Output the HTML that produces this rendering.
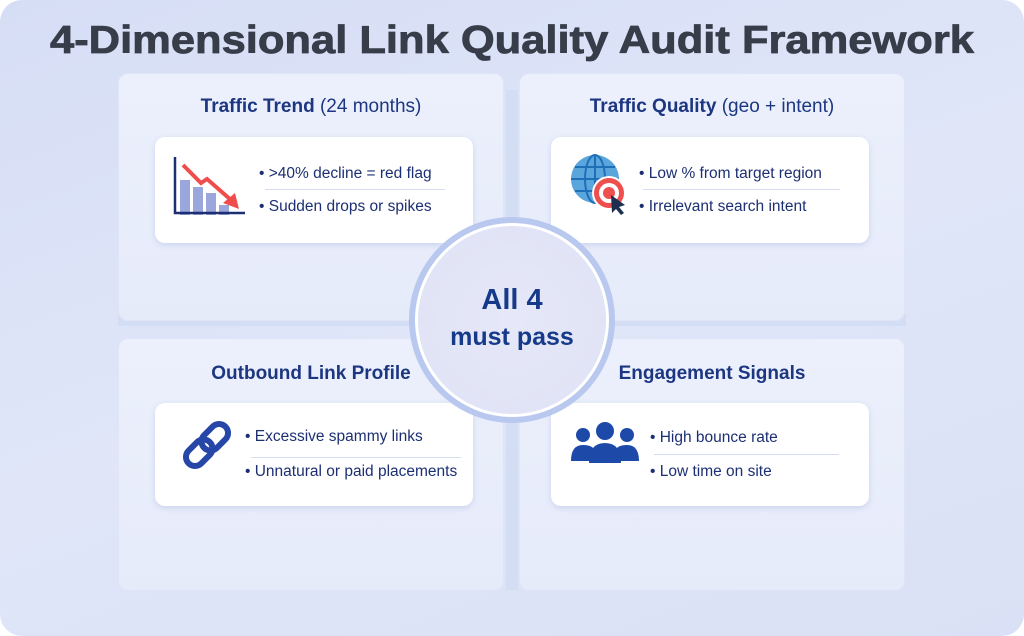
<!DOCTYPE html>
<html><head><meta charset="utf-8"><style>
*{margin:0;padding:0;box-sizing:border-box}
body{width:1024px;height:636px;background:#fff;font-family:"Liberation Sans","DejaVu Sans",sans-serif;position:relative;overflow:hidden}
.bg{position:absolute;left:0;top:0;width:1024px;height:636px;border-radius:22px;background:linear-gradient(160deg,#d6def6 0%,#e0e6f8 50%,#dae1f6 100%)}
.panel{position:absolute;width:386px;border-radius:10px;background:linear-gradient(180deg,#ecf0fc,#e6ebfa);border:1px solid #dfe5f6}
.ptitle{position:absolute;left:0;width:100%;text-align:center;font-size:19px;color:#1c3681}
.card{position:absolute;width:318px;height:106px;background:#fff;border-radius:10px;box-shadow:0 2px 6px rgba(120,140,200,.25)}
.li{position:absolute;font-size:15.5px;color:#1c2f72;white-space:nowrap}
.sep{position:absolute;height:1px;background:#d6dcef}
.conn{position:absolute;background:#d3ddf4}
</style></head><body>
<div class="bg"></div>
<svg style="position:absolute;left:0;top:0" width="1024" height="80"><text x="512" y="53" text-anchor="middle" font-family="Liberation Sans" font-weight="bold" font-size="39" fill="#373d49" stroke="#373d49" stroke-width="0.8" textLength="924" lengthAdjust="spacingAndGlyphs">4-Dimensional Link Quality Audit Framework</text></svg>

<div class="conn" style="left:506px;top:90px;width:12px;height:500px"></div>
<div class="conn" style="left:118px;top:314px;width:788px;height:12px"></div>

<div class="panel" style="left:118px;top:73px;height:248px"><div class="ptitle" style="top:22px"><b>Traffic Trend</b> (24 months)</div></div>
<div class="panel" style="left:519px;top:73px;height:248px"><div class="ptitle" style="top:22px"><b>Traffic Quality</b> (geo + intent)</div></div>
<div class="panel" style="left:118px;top:338px;height:253px"><div class="ptitle" style="top:24px"><b>Outbound Link Profile</b></div></div>
<div class="panel" style="left:519px;top:338px;height:253px"><div class="ptitle" style="top:24px"><b>Engagement Signals</b></div></div>

<!-- TL card -->
<div class="card" style="left:155px;top:137px">
<svg style="position:absolute;left:18px;top:18px" width="75" height="62">
<rect x="7" y="25" width="10" height="35" fill="#9aa6dc"/><rect x="20" y="32" width="10" height="28" fill="#9aa6dc"/><rect x="33" y="38" width="10" height="22" fill="#9aa6dc"/><rect x="46" y="50" width="10" height="10" fill="#9aa6dc"/>
<path d="M2 2V58H72" stroke="#1c2f72" stroke-width="2.5" fill="none"/>
<path d="M10 10L28 28L34 24L58 45" stroke="#ef4d4d" stroke-width="4" fill="none"/><path d="M50 48L66 54L62 38Z" fill="#ef4d4d"/>
</svg>
<div class="li" style="left:104px;top:28px">• &gt;40% decline = red flag</div>
<div class="sep" style="left:110px;top:52px;width:180px"></div>
<div class="li" style="left:104px;top:61px">• Sudden drops or spikes</div>
</div>
<!-- TR card -->
<div class="card" style="left:551px;top:137px">
<svg style="position:absolute;left:18px;top:16px" width="70" height="70">
<circle cx="26" cy="26" r="24" fill="#5aa6dc"/><g stroke="#1e6fb8" stroke-width="2" fill="none"><ellipse cx="26" cy="26" rx="10" ry="24"/><path d="M2 26H50M6 14H46M6 38H46M26 2V50"/></g>
<circle cx="40" cy="40" r="17" fill="#fff"/><circle cx="40" cy="40" r="15" fill="#ee5050"/><circle cx="40" cy="40" r="10" fill="#fff"/><circle cx="40" cy="40" r="6" fill="#ee5050"/>
<path d="M42 42L56 52L50 54L55 60L52 62L47 56L43 60Z" fill="#1c2f50"/>
</svg>
<div class="li" style="left:88px;top:28px">• Low % from target region</div>
<div class="sep" style="left:92px;top:52px;width:197px"></div>
<div class="li" style="left:88px;top:61px">• Irrelevant search intent</div>
</div>
<!-- BL card -->
<div class="card" style="left:155px;top:403px;height:103px">
<svg style="position:absolute;left:22px;top:12px" width="60" height="60">
<g transform="rotate(-45 30 30)" stroke="#2646a8" stroke-width="6" fill="none">
<rect x="4" y="21" width="30" height="18" rx="9"/><rect x="26" y="21" width="30" height="18" rx="9"/></g>
</svg>
<div class="li" style="left:90px;top:25px">• Excessive spammy links</div>
<div class="sep" style="left:96px;top:54px;width:210px"></div>
<div class="li" style="left:90px;top:60px">• Unnatural or paid placements</div>
</div>
<!-- BR card -->
<div class="card" style="left:551px;top:403px;height:103px">
<svg style="position:absolute;left:20px;top:18px" width="75" height="45">
<g fill="#1d4aa8"><circle cx="12" cy="14" r="7"/><circle cx="56" cy="14" r="7"/><path d="M0 40Q0 24 12 24Q22 24 24 30L24 40Z"/><path d="M44 30Q46 24 56 24Q68 24 68 40L44 40Z"/><circle cx="34" cy="10" r="9"/><path d="M18 42Q18 22 34 22Q50 22 50 42Z"/></g>
</svg>
<div class="li" style="left:99px;top:26px">• High bounce rate</div>
<div class="sep" style="left:103px;top:51px;width:185px"></div>
<div class="li" style="left:99px;top:60px">• Low time on site</div>
</div>

<!-- center circle -->
<div style="position:absolute;left:409px;top:217px;width:206px;height:206px;border-radius:50%;background:#b9c8ee"></div>
<div style="position:absolute;left:415px;top:223px;width:194px;height:194px;border-radius:50%;background:#fff"></div>
<div style="position:absolute;left:418px;top:226px;width:188px;height:188px;border-radius:50%;background:radial-gradient(circle,#e6e8f8,#dfe2f5)"></div>
<div style="position:absolute;left:418px;top:284px;width:188px;text-align:center;color:#163a8a;font-weight:bold;font-size:29px;line-height:32px">All 4</div>
<div style="position:absolute;left:418px;top:322px;width:188px;text-align:center;color:#163a8a;font-weight:bold;font-size:25px;line-height:30px">must pass</div>
</body></html>
